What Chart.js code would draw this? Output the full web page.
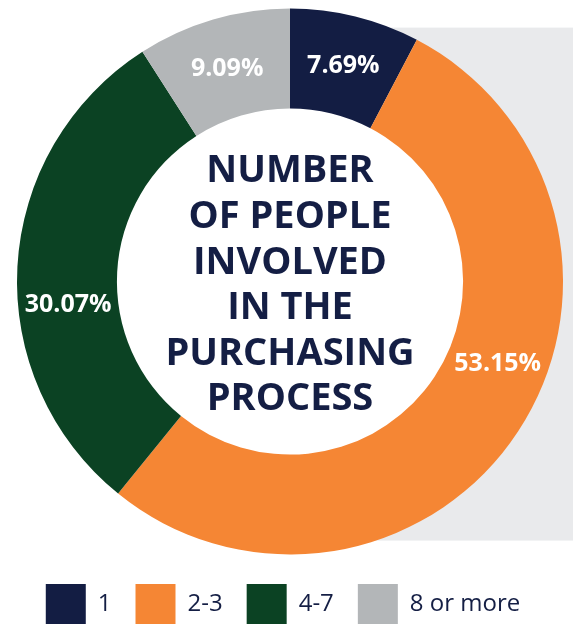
<!DOCTYPE html>
<html>
<head>
<meta charset="utf-8">
<script src="https://cdn.jsdelivr.net/npm/chart.js@4"></script>
<style>
  html, body { margin: 0; padding: 0; background: #fff; }
  #wrap { width: 573px; height: 625px; }
</style>
</head>
<body>
<div id="wrap"><canvas id="chart"></canvas></div>
<script>
  // ---------- Data ----------
  const categories = ['1', '2-3', '4-7', '8 or more'];
  const shares = [7.69, 53.15, 30.07, 9.09];
  const sliceColors = ['#131d43', '#f58634', '#0b4223', '#b3b6b8'];
  const centerTitle = ['NUMBER', 'OF PEOPLE', 'INVOLVED', 'IN THE', 'PURCHASING', 'PROCESS'];

  // label placement tweaks (degrees along the ring)
  const labelNudgeDeg = [0, -12, -9, 0];

  const NAVY = '#141e44';

  // grey panel behind the right half of the ring, white hole on top of it
  const panelPlugin = {
    id: 'panel',
    afterLayout(chart) {
      // nudge the legend row a little to the left
      if (chart.legend) { chart.legend.left -= 7; chart.legend.right -= 7; }
    },
    beforeDatasetsDraw(chart) {
      const arc = chart.getDatasetMeta(0).data[0];
      if (!arc) return;
      const { x, y, outerRadius, innerRadius } = arc.getProps(['x', 'y', 'outerRadius', 'innerRadius'], true);
      const ctx = chart.ctx;
      ctx.save();
      ctx.fillStyle = '#e9eaec';
      const top = y - outerRadius * 0.93;
      const bottom = y + outerRadius * 0.949;
      ctx.fillRect(x, top, chart.width - x, bottom - top);
      ctx.fillStyle = '#ffffff';
      ctx.beginPath();
      ctx.arc(x, y, innerRadius + 1, 0, Math.PI * 2);
      ctx.fill();
      ctx.restore();
    }
  };

  const labelsPlugin = {
    id: 'sliceLabels',
    afterDatasetsDraw(chart) {
      const ctx = chart.ctx;
      const meta = chart.getDatasetMeta(0);
      ctx.save();
      ctx.fillStyle = '#ffffff';
      ctx.font = 'bold 25px "Open Sans"';
      ctx.textAlign = 'center';
      ctx.textBaseline = 'middle';
      meta.data.forEach((arc, i) => {
        const p = arc.getProps(['x', 'y', 'startAngle', 'endAngle', 'innerRadius', 'outerRadius'], true);
        const a = (p.startAngle + p.endAngle) / 2 + labelNudgeDeg[i] * Math.PI / 180;
        const r = (p.innerRadius + p.outerRadius) / 2;
        ctx.fillText(shares[i].toFixed(2) + '%', p.x + Math.cos(a) * r, p.y + Math.sin(a) * r + 1);
      });

      // centre title
      const c = meta.data[0].getProps(['x', 'y'], true);
      ctx.fillStyle = NAVY;
      ctx.font = 'bold 38px "Open Sans"';
      const lh = 45.6;
      centerTitle.forEach((line, i) => {
        ctx.fillText(line, c.x, c.y + 4 + (i - (centerTitle.length - 1) / 2) * lh);
      });
      ctx.restore();
    }
  };

  new Chart(document.getElementById('chart'), {
    type: 'doughnut',
    data: {
      labels: categories,
      datasets: [{
        data: shares,
        backgroundColor: sliceColors,
        borderWidth: 0,
        hoverOffset: 0
      }]
    },
    options: {
      responsive: true,
      maintainAspectRatio: false,
      animation: false,
      cutout: '63.4%',
      layout: { padding: { top: 3, left: 17, right: 10, bottom: -9 } },
      plugins: {
        tooltip: { enabled: false },
        legend: {
          position: 'bottom',
          labels: {
            boxWidth: 40,
            boxHeight: 40,
            padding: 24,
            color: NAVY,
            font: { family: '"Open Sans"', size: 24 }
          }
        }
      }
    },
    plugins: [panelPlugin, labelsPlugin]
  });
</script>
</body>
</html>
